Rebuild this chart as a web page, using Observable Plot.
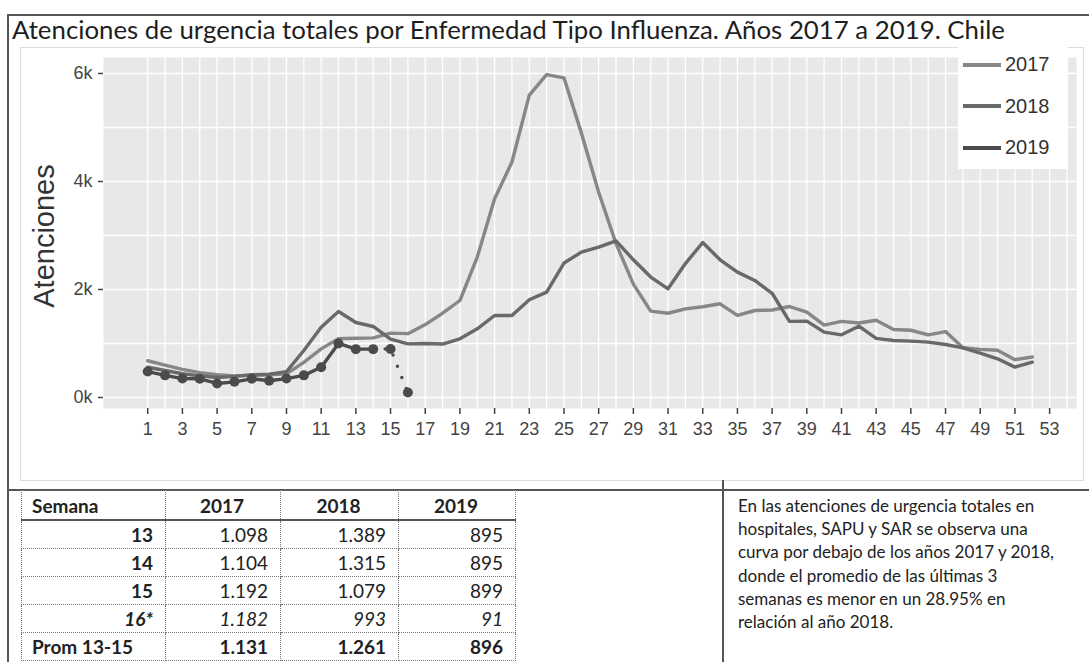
<!DOCTYPE html>
<html><head><meta charset="utf-8">
<script src="https://cdn.jsdelivr.net/npm/d3@7"></script>
<script src="https://cdn.jsdelivr.net/npm/@observablehq/plot@0.6"></script>
<style>
html,body{margin:0;padding:0;background:#fff;}
body{width:1089px;height:662px;position:relative;overflow:hidden;font-family:Lato,"Open Sans",sans-serif;color:#222;}
.abs{position:absolute;}
#title{left:12px;top:13px;font-size:25.8px;line-height:32px;color:#1e1e1e;white-space:nowrap;}
#chart{left:0;top:40px;}
#ylab{left:44px;top:236px;transform:translate(-50%,-50%) rotate(-90deg);font-family:"Liberation Sans",Arial,sans-serif;font-size:29px;color:#333;white-space:nowrap;}
#legend{left:958px;top:44px;width:110px;background:#fff;font-family:"Liberation Sans",Arial,sans-serif;font-size:20px;color:#333;}
#legend div{height:41.5px;display:flex;align-items:center;}
#legend span.sw{display:inline-block;width:38px;height:4px;margin-right:4px;margin-left:5px;}
.hline{background:#555;height:1.5px;}
.vline{background:#555;width:1.5px;}
table{border-collapse:collapse;table-layout:fixed;font-family:Lato,"Open Sans",sans-serif;font-size:19px;color:#222;}
td,th{border:1px dotted #777;padding:0 12px 0 10px;height:27px;line-height:27px;overflow:hidden;white-space:nowrap;}
th{font-weight:bold;text-align:center;border-bottom:2px solid #555;height:28px;}
th:first-child{text-align:left;}
td{text-align:right;}
td:first-child{font-weight:bold;}
tr.prov td{font-style:italic;}
tr.avg td{font-weight:bold;}
#note{left:738px;top:494px;font-size:17px;line-height:23.2px;color:#222;white-space:nowrap;}
</style></head><body>
<div class="abs hline" style="left:7px;top:14px;width:1082px;"></div>
<div class="abs vline" style="left:7px;top:14px;height:648px;"></div>
<div class="abs" style="left:20px;top:47px;width:1062px;height:432px;border:1px solid #ddd;"></div>
<div class="abs hline" style="left:7px;top:489px;width:1082px;"></div>
<div class="abs vline" style="left:722px;top:480px;height:182px;"></div>
<div id="title" class="abs">Atenciones de urgencia totales por Enfermedad Tipo Influenza. Años 2017 a 2019. Chile</div>
<div id="chart" class="abs"></div>
<div id="ylab" class="abs">Atenciones</div>
<div id="legend" class="abs"></div>
<div id="tablewrap" class="abs" style="left:21px;top:490px;"></div>
<div id="note" class="abs">En las atenciones de urgencia totales en<br>hospitales, SAPU y SAR se observa una<br>curva por debajo de los años 2017 y 2018,<br>donde el promedio de las últimas 3<br>semanas es menor en un 28.95% en<br>relación al año 2018.</div>
<script>
// ---- data ----
const years = ["2017", "2018", "2019"];
const colors = ["#878787", "#696969", "#4b4b4b"];
const values2017 = [680, 600, 520, 460, 420, 400, 410, 420, 440, 650, 900, 1090, 1098, 1104, 1192, 1182, 1350, 1560, 1796, 2600, 3680, 4360, 5600, 5980, 5920, 4900, 3800, 2850, 2100, 1600, 1560, 1640, 1680, 1735, 1520, 1611, 1620, 1685, 1580, 1340, 1410, 1380, 1430, 1260, 1245, 1160, 1220, 920, 890, 875, 700, 750];
const values2018 = [560, 500, 440, 400, 370, 390, 420, 430, 480, 870, 1300, 1592, 1389, 1315, 1079, 993, 1000, 990, 1086, 1272, 1518, 1518, 1810, 1951, 2490, 2691, 2784, 2900, 2550, 2230, 2012, 2480, 2870, 2550, 2321, 2167, 1930, 1410, 1414, 1210, 1160, 1320, 1095, 1056, 1043, 1025, 981, 920, 821, 716, 562, 654];
const values2019 = [480, 410, 350, 346, 260, 290, 346, 310, 350, 410, 560, 1000, 895, 895, 899, 91];
const lastSolidWeek2019 = 14;
const xTicks = [1,3,5,7,9,11,13,15,17,19,21,23,25,27,29,31,33,35,37,39,41,43,45,47,49,51,53];
const gridWeeks = [1,2,3,4,5,6,7,8,9,10,11,12,13,14,15,16,17,18,19,20,21,22,23,24,25,26,27,28,29,30,31,32,33,34,35,36,37,38,39,40,41,42,43,44,45,46,47,48,49,50,51,52,53,54];
const yTicks = [0, 2000, 4000, 6000];
const yGrid = [0, 1000, 2000, 3000, 4000, 5000, 6000];
const tableHead = ["Semana", "2017", "2018", "2019"];
const tableWeeks = ["13", "14", "15", "16*", "Prom 13-15"];
const table2017 = ["1.098", "1.104", "1.192", "1.182", "1.131"];
const table2018 = ["1.389", "1.315", "1.079", "993", "1.261"];
const table2019 = ["895", "895", "899", "91", "896"];
const colWidths = [144, 115, 118, 117];

const toRows = vals => vals.map((v, i) => ({week: i + 1, v}));
const d2017 = toRows(values2017);
const d2018 = toRows(values2018);
const d2019 = toRows(values2019);
const d2019solid = d2019.filter(d => d.week <= lastSolidWeek2019);
const d2019dotted = d2019.filter(d => d.week >= lastSolidWeek2019);

const chart = Plot.plot({
  width: 1089, height: 420,
  marginTop: 17, marginBottom: 52, marginLeft: 103, marginRight: 13,
  x: {domain: [-1.55, 54.55]},
  y: {domain: [-204, 6296]},
  style: {fontFamily: "'Liberation Sans', Arial, sans-serif", background: "transparent", color: "#444"},
  marks: [
    Plot.frame({fill: "#e8e8e8", stroke: null}),
    Plot.ruleX(gridWeeks, {stroke: "#fff", strokeWidth: 1.3}),
    Plot.ruleY(yGrid, {stroke: "#fff", strokeWidth: 1.3}),
    Plot.axisX({ticks: xTicks, tickSize: 6, tickPadding: 8, fontSize: 18, label: null, stroke: "#444", strokeWidth: 1.5}),
    Plot.axisY({ticks: yTicks, tickSize: 5, tickPadding: 6, fontSize: 18, label: null, tickFormat: d => (d / 1000) + "k", stroke: "#444", strokeWidth: 1.5}),
    Plot.line(d2017, {x: "week", y: "v", stroke: colors[0], strokeWidth: 3.4, strokeLinejoin: "round"}),
    Plot.line(d2018, {x: "week", y: "v", stroke: colors[1], strokeWidth: 3.4, strokeLinejoin: "round"}),
    Plot.line(d2019solid, {x: "week", y: "v", stroke: colors[2], strokeWidth: 3.4, strokeLinejoin: "round"}),
    Plot.line(d2019dotted, {x: "week", y: "v", stroke: colors[2], strokeWidth: 3.5, strokeDasharray: "0,12", strokeLinecap: "round"}),
    Plot.dot(d2019, {x: "week", y: "v", fill: colors[2], r: 5})
  ]
});
document.getElementById("chart").appendChild(chart);

// legend
const legend = document.getElementById("legend");
years.forEach((y, i) => {
  const row = document.createElement("div");
  row.innerHTML = `<span class="sw" style="background:${colors[i]}"></span>${y}`;
  legend.appendChild(row);
});

// table
let html = "<table><colgroup>" + colWidths.map(w => `<col style="width:${w}px">`).join("") + "</colgroup><tr>" + tableHead.map(h => `<th>${h}</th>`).join("") + "</tr>";
tableWeeks.forEach((w, i) => {
  const cls = w.includes("*") ? "prov" : (w.startsWith("Prom") ? "avg" : "");
  html += `<tr class="${cls}"><td style="${w.startsWith('Prom') ? 'text-align:left' : ''}">${w}</td><td>${table2017[i]}</td><td>${table2018[i]}</td><td>${table2019[i]}</td></tr>`;
});
html += "</table>";
document.getElementById("tablewrap").innerHTML = html;
</script>
</body></html>
